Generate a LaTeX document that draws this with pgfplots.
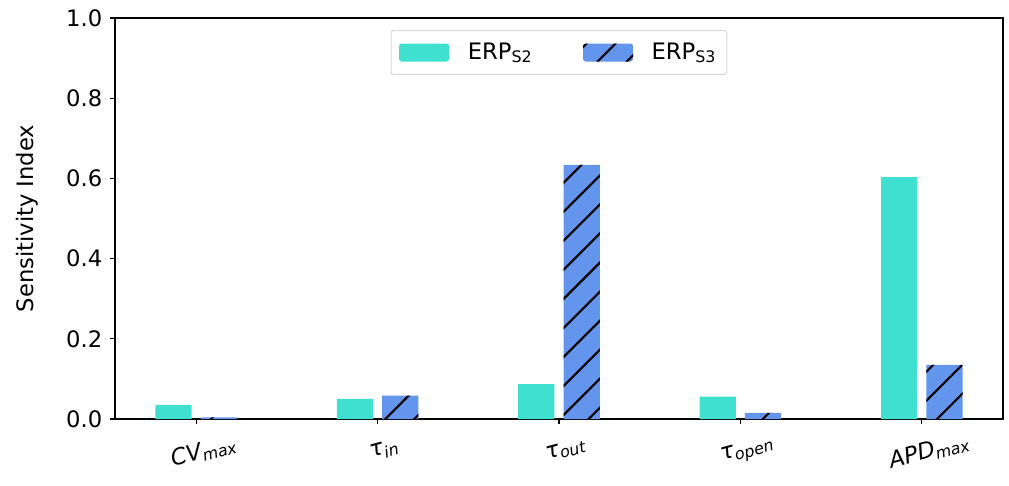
\documentclass[border=0pt]{standalone}
\usepackage{pgfplots}
\pgfplotsset{compat=1.18}
\usepackage{fontspec}
\setmainfont{DejaVu Sans}
\usetikzlibrary{patterns.meta,calc}
\definecolor{turq}{HTML}{40E0D0}
\definecolor{cfblue}{HTML}{6495ED}

\pgfplotstableread{
x s2 s3
0 0.035 0.004
1 0.050 0.058
2 0.087 0.634
3 0.056 0.015
4 0.603 0.135
}\datatab

\begin{document}
\fontsize{17}{20}\selectfont
\begin{tikzpicture}
\begin{axis}[
  name=ax,
  scale only axis, width=666pt, height=300.75pt,
  xmin=-0.4475, xmax=4.4475, ymin=0, ymax=1,
  xtick={0,1,2,3,4},
  xticklabels={{\itshape CV\textsubscript{max}},{\itshape τ\textsubscript{in}},{\itshape τ\textsubscript{out}},{\itshape τ\textsubscript{open}},{\itshape APD\textsubscript{max}}},
  ytick={0,0.2,0.4,0.6,0.8,1.0},
  yticklabel style={/pgf/number format/.cd, fixed, fixed zerofill, precision=1, assume math mode=true},
  x tick label style={rotate=15, anchor=north, yshift=-8pt},
  tick align=outside, tick pos=left,
  major tick length=3.75pt,
  every tick/.style={black, line width=0.85pt},
  axis line style={line width=0.85pt},
  ylabel={Sensitivity Index},
  ylabel style={at={(axis description cs:-0.0993,0.5)}, anchor=center, rotate=0},
  legend columns=2,
  legend style={at={(0.5,0.97)}, anchor=north, draw=black!15, rounded corners=2pt, line width=0.8pt,
     inner xsep=6pt, inner ysep=7pt, column sep=12pt,
     /tikz/every even column/.append style={column sep=36pt}},
  legend image code/.code={\path[#1] (0pt,-6.75pt) rectangle (37.5pt,6.75pt);},
]
\addplot[ybar, bar width=0.2, bar shift=-0.125, fill=turq, draw=none] table[x=x, y=s2] {\datatab};
\addlegendentry{ERP\textsubscript{S2}}
\addplot[ybar, bar width=0.2, bar shift=0.125, fill=cfblue, draw=none,
  postaction={pattern={Lines[angle=45, distance=15.4pt, line width=1.6pt]}, pattern color=black}] table[x=x, y=s3] {\datatab};
\addlegendentry{ERP\textsubscript{S3}}
\end{axis}
\pgfresetboundingbox
\path ($(ax.south west)+(-86.25pt,-49.5pt)$) rectangle ($(ax.north east)+(4.5pt,13.5pt)$);
\end{tikzpicture}
\end{document}
